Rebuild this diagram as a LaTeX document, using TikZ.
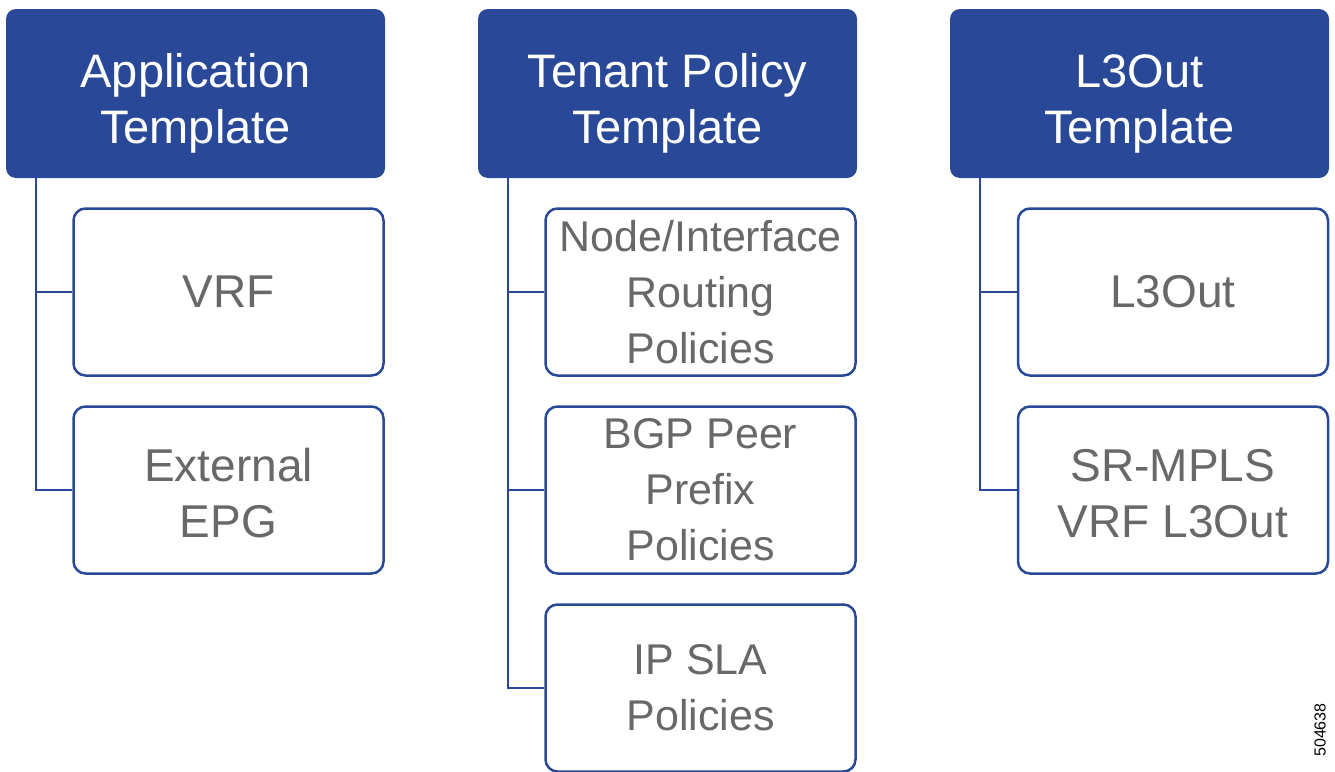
\documentclass[tikz,border=0pt]{standalone}
\usepackage{fontspec}
\setmainfont{Liberation Sans}
\usepackage{xcolor}

\definecolor{tmplblue}{RGB}{41,73,152}
\definecolor{itemgray}{RGB}{104,104,104}
\newcommand{\hdrgap}{\rule{0pt}{54pt}}
\newcommand{\itemgap}{\rule{0pt}{40pt}}

\begin{document}
\begin{tikzpicture}[x=1pt,y=1pt,yscale=-1,xscale=1,
  header/.style={fill=tmplblue, rounded corners=10pt, minimum width=379pt, minimum height=169pt, inner sep=0pt, text=white, align=center, font=\fontsize{47}{56}\selectfont},
  item/.style={draw=tmplblue, line width=2.5pt, rounded corners=12pt, fill=white, minimum width=310pt, minimum height=167pt, inner sep=0pt, text=itemgray, align=center, font=\fontsize{46}{56}\selectfont},
  smallitem/.style={item, font=\fontsize{43}{56}\selectfont},
  branch/.style={draw=tmplblue, line width=2.5pt}]
\useasboundingbox (0,0) rectangle (1335,771);

% Application template
\node [header] (apphdr) at (195.5,93.5) {\hdrgap Application\\Template};
\node [item] (vrf) at (228.5,292) {VRF};
\node [item] (extepg) at (228.5,490) {\itemgap External\\EPG};
\draw [branch] ([xshift=30pt]apphdr.south west) |- (vrf.west);
\draw [branch] ([xshift=30pt]apphdr.south west) |- (extepg.west);

% Tenant policy template
\node [header] (tenanthdr) at (667.5,93.5) {\hdrgap Tenant Policy\\Template};
\node [smallitem] (routing) at (700.5,292) {Node/Interface\\Routing\\Policies};
\node [smallitem] (bgppeer) at (700.5,490) {BGP Peer\\Prefix\\Policies};
\node [smallitem] (ipsla) at (700.5,688) {IP SLA\\Policies};
\draw [branch] ([xshift=30pt]tenanthdr.south west) |- (routing.west);
\draw [branch] ([xshift=30pt]tenanthdr.south west) |- (bgppeer.west);
\draw [branch] ([xshift=30pt]tenanthdr.south west) |- (ipsla.west);

% L3Out template
\node [header] (l3hdr) at (1139.5,93.5) {\hdrgap L3Out\\Template};
\node [item] (l3out) at (1173,292) {L3Out};
\node [item] (srmpls) at (1173,490) {\itemgap SR-MPLS\\VRF L3Out};
\draw [branch] ([xshift=30pt]l3hdr.south west) |- (l3out.west);
\draw [branch] ([xshift=30pt]l3hdr.south west) |- (srmpls.west);

% Figure number
\node [rotate=90, font=\fontsize{16}{18}\selectfont] (figno) at (1320,730) {504638};

\end{tikzpicture}
\end{document}
